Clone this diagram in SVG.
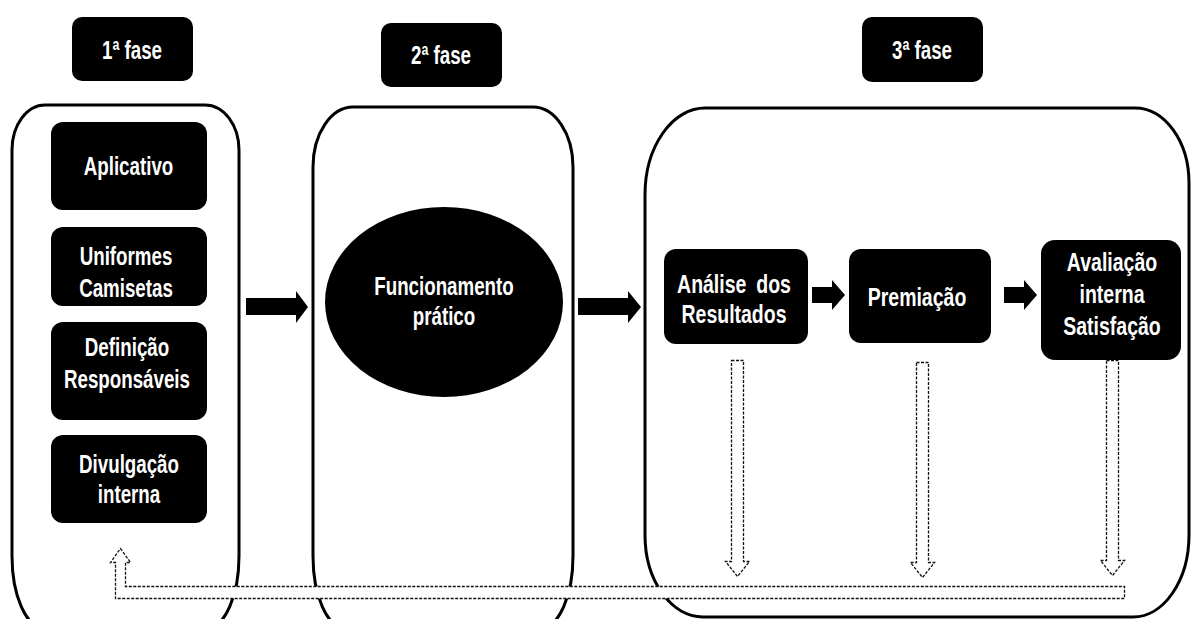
<svg xmlns="http://www.w3.org/2000/svg" width="1191" height="619" viewBox="0 0 1191 619">
<style>
.box{fill:#000}
.cont{fill:none;stroke:#000;stroke-width:3}
.t{fill:#fff;font-family:"Liberation Sans",Arial,sans-serif;font-weight:bold;font-size:25px;text-anchor:middle}
.t3{font-size:26px}
.blk{fill:#000}
.dash{fill:#fff;stroke:#111;stroke-width:1.3;stroke-dasharray:3 1.5}
</style>
<rect width="1191" height="619" fill="#fff"/>

<g id="phase1-label"><rect class="box" x="72" y="17" width="121" height="64" rx="10"/><g transform="translate(132,0) scale(0.75,1)"><text class="t" x="0" y="59">1ª fase</text></g></g>
<g id="phase2-label"><rect class="box" x="381" y="23" width="121" height="64" rx="10"/><g transform="translate(441,0) scale(0.75,1)"><text class="t" x="0" y="64">2ª fase</text></g></g>
<g id="phase3-label"><rect class="box" x="862" y="17" width="121" height="65" rx="10"/><g transform="translate(922,0) scale(0.75,1)"><text class="t" x="0" y="59">3ª fase</text></g></g>

<g id="phase1"><path class="cont" d="M12,150 A33,45 0 0 1 45,105 L205,105 A34,45 0 0 1 239,150 L239,556 A32,72 0 0 1 207,628 L44,628 A32,72 0 0 1 12,556 Z"/></g>
<g id="phase2"><path class="cont" d="M313,167 A40,60 0 0 1 353,107 L533,107 A40,60 0 0 1 573,167 L573,556 A32,72 0 0 1 541,628 L345,628 A32,72 0 0 1 313,556 Z"/></g>
<g id="phase3"><path class="cont" d="M645,195 A60,87 0 0 1 705,108 L1135,108 A54,75 0 0 1 1189,183 L1189,535 A56,82 0 0 1 1133,617 L703,617 A58,82 0 0 1 645,535 Z"/></g>

<g id="aplicativo"><rect class="box" x="51" y="122" width="156" height="88" rx="12"/><g transform="translate(128.5,0) scale(0.75,1)"><text class="t" x="0" y="175">Aplicativo</text></g></g>
<g id="uniformes"><rect class="box" x="51" y="227" width="156" height="79" rx="12"/><g transform="translate(126,0) scale(0.75,1)"><text class="t" x="0" y="265">Uniformes</text><text class="t" x="0" y="297">Camisetas</text></g></g>
<g id="definicao"><rect class="box" x="51" y="322" width="156" height="98" rx="12"/><g transform="translate(127,0) scale(0.75,1)"><text class="t" x="0" y="356">Definição</text><text class="t" x="0" y="388">Responsáveis</text></g></g>
<g id="divulgacao"><rect class="box" x="51" y="435" width="156" height="88" rx="12"/><g transform="translate(129,0) scale(0.75,1)"><text class="t" x="0" y="473">Divulgação</text><text class="t" x="0" y="503">interna</text></g></g>

<g id="funcionamento"><ellipse class="box" cx="444" cy="302" rx="119" ry="95"/><g transform="translate(444,0) scale(0.75,1)"><text class="t" x="0" y="295">Funcionamento</text><text class="t" x="0" y="325">prático</text></g></g>

<g id="analise"><rect class="box" x="664" y="249" width="144" height="95" rx="12"/><g transform="translate(734,0) scale(0.75,1)"><text class="t t3" x="0" y="293" style="word-spacing:6px">Análise dos</text><text class="t t3" x="0" y="323">Resultados</text></g></g>
<g id="premiacao"><rect class="box" x="849" y="249" width="142" height="94" rx="12"/><g transform="translate(917,0) scale(0.75,1)"><text class="t t3" x="0" y="306">Premiação</text></g></g>
<g id="avaliacao"><rect class="box" x="1041" y="240" width="140" height="120" rx="14"/><g transform="translate(1112,0) scale(0.75,1)"><text class="t t3" x="0" y="271">Avaliação</text><text class="t t3" x="0" y="303">interna</text><text class="t t3" x="0" y="335">Satisfação</text></g></g>

<g id="connectors">
<path class="blk" d="M246,298 L296,298 L296,291 L308,307 L296,323 L296,315 L246,315 Z"/>
<path class="blk" d="M578,298 L628,298 L628,291 L641,307 L628,323 L628,315 L578,315 Z"/>
<path class="blk" d="M812,287 L832,287 L832,280 L845,295 L832,310 L832,303 L812,303 Z"/>
<path class="blk" d="M1004,287 L1024,287 L1024,280 L1037,295 L1024,310 L1024,303 L1004,303 Z"/>
<path class="dash" d="M731.5,360.5 L743.5,360.5 L743.5,561.5 L749.5,561.5 L737.5,576.5 L725.5,561.5 L731.5,561.5 Z"/>
<path class="dash" d="M916.5,362.5 L928.5,362.5 L928.5,562.5 L934.5,562.5 L922.5,577.5 L910.5,562.5 L916.5,562.5 Z"/>
<path class="dash" d="M1106.5,360.5 L1118.5,360.5 L1118.5,560.5 L1124.5,560.5 L1112.5,575.5 L1100.5,560.5 L1106.5,560.5 Z"/>
<path class="dash" d="M120.5,548.5 L130.5,562.5 L125.5,562.5 L125.5,586.5 L1124.5,586.5 L1124.5,598.5 L115.5,598.5 L115.5,562.5 L110.5,562.5 Z"/>
</g>
</svg>
